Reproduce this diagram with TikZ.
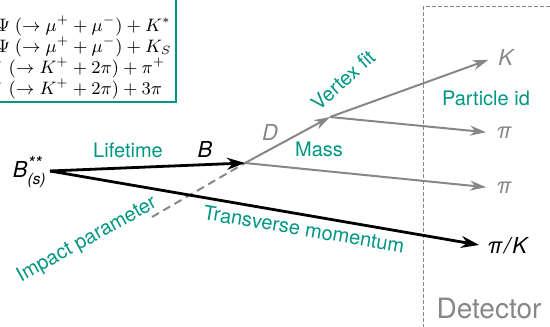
\documentclass[tikz,border=0pt]{standalone}
\usepackage{amsmath}
\usepackage[no-math]{fontspec}
\setmainfont{TeX Gyre Heros}
\usetikzlibrary{arrows.meta,positioning}

\definecolor{cutteal}{RGB}{0,150,130}
\definecolor{trackgray}{RGB}{135,135,135}

\begin{document}
\begin{tikzpicture}[
    x=0.5pt, y=-0.5pt,
    cut/.style={text=cutteal, font=\normalsize},
    particle/.style={font=\fontsize{11}{13}\selectfont\itshape, inner sep=1pt},
    softparticle/.style={particle, text=trackgray},
    heavy/.style={line width=1.4pt, -{Stealth[length=9pt,width=6pt]}},
    track/.style={line width=1pt, trackgray, -{Stealth[length=8pt,width=5pt]}},
    legendbox/.style={align=left, inner xsep=1pt, inner ysep=1.5pt, font=\fontsize{9}{10.5}\selectfont}
  ]
    \useasboundingbox (0,0) rectangle (550,326);

    % Detector volume.
    \node[text=trackgray, font=\fontsize{14}{16}\selectfont] (detector) at (489,308) {Detector};
    \draw[trackgray, line width=0.5pt, dash pattern=on 2pt off 1pt] (423,340) |- (570,7);

    % Decay list.
    \node[legendbox, anchor=south east] at (174,102) (decays) {%
      $J/\Psi\ (\rightarrow \mu^{+} + \mu^{-}) + K^{*}$\\
      $J/\Psi\ (\rightarrow \mu^{+} + \mu^{-}) + K_{S}$\\
      $D^{-}\ (\rightarrow K^{+} + 2\pi) + \pi^{+}$\\
      $D^{-}\ (\rightarrow K^{+} + 2\pi) + 3\pi$};
    \draw[cutteal, line width=1pt] ([xshift=1pt]decays.south east) rectangle ([yshift=20pt]decays.north west);

    % Vertices.
    \coordinate (prod) at (50,171);
    \coordinate (bvtx) at (245,163);
    \coordinate (dvtx) at (330,117);
    \coordinate (ipend) at (152,217);

    % Particles.
    \node[particle, anchor=east] (bss) at (49,172) {B$^{\text{\small**}}_{\text{(s)}}$};
    \node[particle] (bmeson) at (205,149) {B};
    \node[softparticle] (dmeson) at (270,132) {D};
    \node[softparticle, anchor=west] (kaon) at (496,57) {K};
    \node[softparticle, anchor=west] (pion1) at (494,133) {π};
    \node[softparticle, anchor=west] (pion2) at (494,188) {π};
    \node[particle, anchor=west] (bachelor) at (485,246) {π\kern1pt/\kern1ptK};

    % Tracks.
    \draw[trackgray, line width=1pt, dash pattern=on 4pt off 2.5pt] (ipend) -- (bvtx);
    \draw[track] (bvtx) -- (dvtx);
    \draw[track, shorten >=4pt] (dvtx) -- (kaon.west);
    \draw[track, shorten >=4pt] (dvtx) -- (pion1.west);
    \draw[track, shorten >=4pt] (bvtx) -- (pion2.west);
    \draw[heavy] (prod) -- (bvtx);
    \draw[heavy, shorten >=3pt] (prod) -- (bachelor.west);

    % Selection cuts.
    \node[cut] (lifetime) at (128,150) {Lifetime};
    \node[cut, rotate=42] (vertexfit) at (343,80) {Vertex fit};
    \node[cut] (mass) at (319,149) {Mass};
    \node[cut] (pid) at (486,98) {Particle id};
    \node[cut, rotate=29] (impact) at (87,240) {Impact parameter};
    \node[cut, rotate=-9.5] (ptrans) at (304,229) {Transverse momentum};
  \end{tikzpicture}
\end{document}
